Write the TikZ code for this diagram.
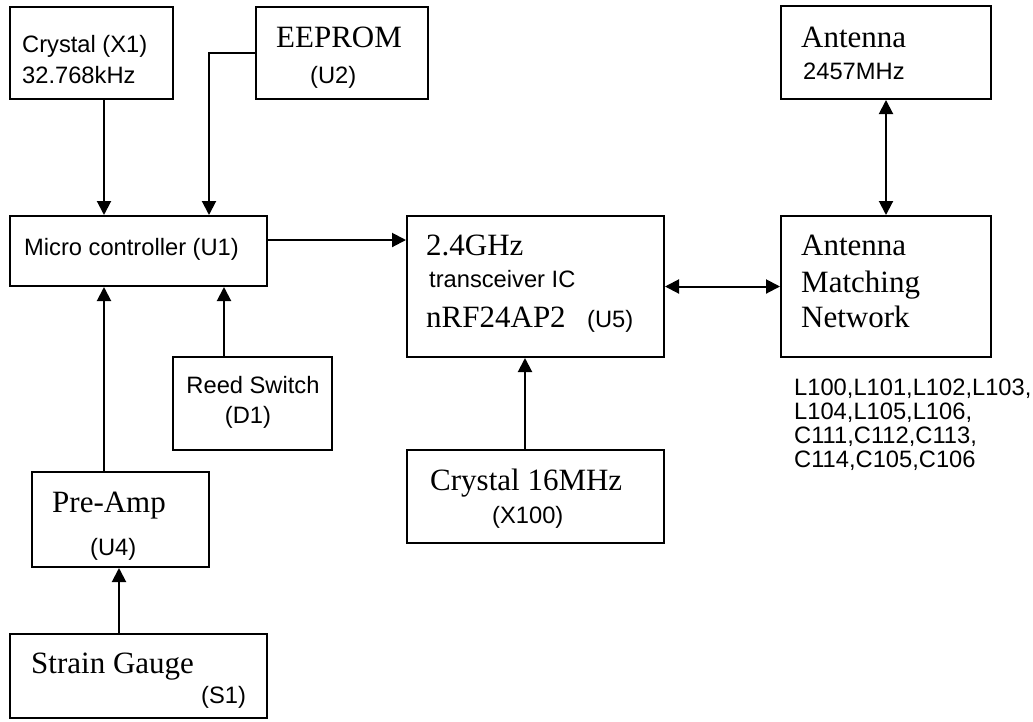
\documentclass[tikz,border=0pt]{standalone}
\usepackage{fontspec}
\setmainfont{Liberation Serif}
\newfontfamily\arialfont{Liberation Sans}
\usetikzlibrary{arrows.meta}
\begin{document}
\begin{tikzpicture}[x=1pt,y=-1pt]
	\tikzset{block/.style = {shape=rectangle, draw, line width=2pt, inner sep=0pt},
		albl/.style = {anchor=base west, inner sep=0pt, font=\arialfont\fontsize{23.7}{24}\selectfont},
		tlbl/.style = {anchor=base west, inner sep=0pt, font=\fontsize{31}{34}\selectfont},
		arr/.style = {line width=2pt, -{Triangle[length=14pt,width=14pt]}},
		darr/.style = {line width=2pt, {Triangle[length=14pt,width=14pt]}-{Triangle[length=14pt,width=14pt]}}}

	\useasboundingbox (0,0) rectangle (1033,721);

	\node[block, minimum width=163pt, minimum height=92pt] (X1) at (91.5,53) {};
	\node[block, minimum width=172pt, minimum height=92pt] (U2) at (342,53) {};
	\node[block, minimum width=210pt, minimum height=93pt] (A) at (886,52.5) {};
	\node[block, minimum width=257pt, minimum height=70pt] (U1) at (138.5,251) {};
	\node[block, minimum width=257pt, minimum height=141pt] (U5) at (535.5,286.5) {};
	\node[block, minimum width=210pt, minimum height=141pt] (M) at (886,286.5) {};
	\node[block, minimum width=159pt, minimum height=93pt] (D1) at (252.5,403.5) {};
	\node[block, minimum width=257pt, minimum height=93pt] (X100) at (535.5,496.5) {};
	\node[block, minimum width=177pt, minimum height=95pt] (U4) at (120.5,519.5) {};
	\node[block, minimum width=257pt, minimum height=84pt] (S1) at (138.5,676) {};

	\node[albl] (X1a) at (22,52) {Crystal (X1)};
	\node[albl] (X1b) at (22,83) {32.768kHz};
	\node[tlbl] (U2a) at (276,47) {EEPROM};
	\node[albl] (U2b) at (310,83) {(U2)};
	\node[tlbl] (Aa) at (801,47) {Antenna};
	\node[albl] (Ab) at (803,79) {2457MHz};
	\node[albl] (U1a) at (24,255) {Micro controller (U1)};
	\node[tlbl] (U5a) at (426,255) {2.4GHz};
	\node[albl] (U5b) at (429,287) {transceiver IC};
	\node[tlbl] (U5c) at (426,327) {nRF24AP2};
	\node[albl] (U5d) at (587,327) {(U5)};
	\node[tlbl] (Ma) at (801,255) {Antenna};
	\node[tlbl] (Mb) at (801,292) {Matching};
	\node[tlbl] (Mc) at (801,327) {Network};
	\node[albl] (Mp1) at (794,395) {L100,L101,L102,L103,};
	\node[albl] (Mp2) at (794,419) {L104,L105,L106,};
	\node[albl] (Mp3) at (794,443) {C111,C112,C113,};
	\node[albl] (Mp4) at (794,467) {C114,C105,C106};
	\node[albl, anchor=base] (D1a) at (253,393) {Reed Switch};
	\node[albl, anchor=base] (D1b) at (248,423) {(D1)};
	\node[tlbl] (X100a) at (430,490) {Crystal 16MHz};
	\node[albl] (X100b) at (492,523) {(X100)};
	\node[tlbl] (U4a) at (52,512) {Pre-Amp};
	\node[albl] (U4b) at (90,555) {(U4)};
	\node[tlbl] (S1a) at (31,673) {Strain Gauge};
	\node[albl] (S1b) at (201,703) {(S1)};

	\draw[arr] ([xshift=12.5pt]X1.south) -- ([xshift=-34.5pt]U1.north);
	\draw[arr] (U2.west) -| ([xshift=70.5pt]U1.north);
	\draw[arr] ([yshift=11pt]U1.east) -- ([yshift=46.5pt]U5.west);
	\draw[darr] (U5.east) -- (M.west);
	\draw[darr] (M.north) -- (A.south);
	\draw[arr] ([xshift=-10.5pt]X100.north) -- ([xshift=-10.5pt]U5.south);
	\draw[arr] ([xshift=-16.5pt]U4.north) -- ([xshift=-34.5pt]U1.south);
	\draw[arr] ([xshift=-28.5pt]D1.north) -- ([xshift=85.5pt]U1.south);
	\draw[arr] ([xshift=-19.5pt]S1.north) -- ([xshift=-1.5pt]U4.south);

\end{tikzpicture}
\end{document}
